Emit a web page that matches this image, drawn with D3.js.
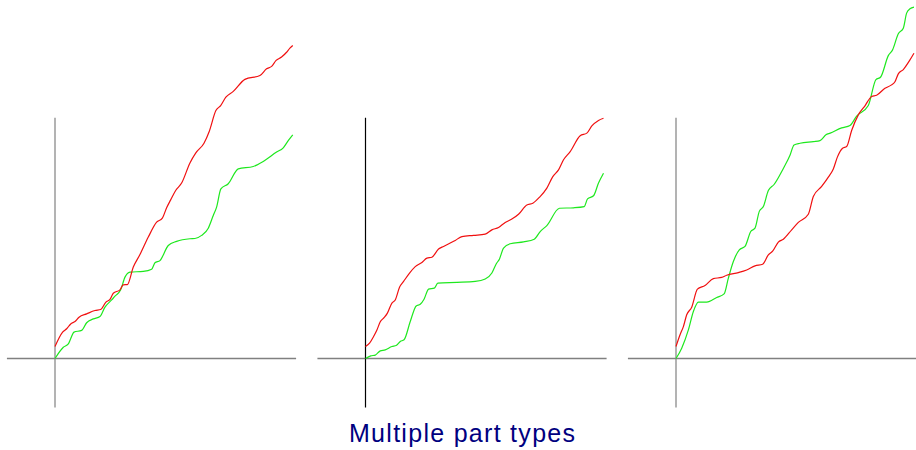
<!DOCTYPE html>
<html><head><meta charset="utf-8">
<script src="https://cdn.jsdelivr.net/npm/d3@7"></script>
<style>html,body{margin:0;padding:0;background:#fff;}</style>
</head><body>
<svg id="c" width="916" height="450"></svg>
<script>
const title = "Multiple part types";
const panels = ["A", "B", "C"];
// x: 0..100 along run, y: 100 = top of vertical axis
const redA = [[0,5],[3.2,11],[4.9,12.4],[6.6,14.4],[8.4,15.4],[10.1,17.2],[13.3,18.6],[16.8,20],[19.2,20.4],[21.4,23.5],[23.1,24.6],[24.5,27.2],[27.3,28.6],[28.7,30.7],[30.4,30.8],[32.9,38.1],[35.7,43.3],[39.2,50.6],[42.7,56.8],[45.1,58.5],[46.9,62.8],[48.6,66.1],[50.7,70],[53.2,73.1],[56.7,81.5],[59.1,85.6],[62.6,89.7],[64.8,94.6],[67.6,103.3],[69.6,105.4],[71.8,108.9],[74.9,111.3],[79.8,116.3],[86.1,117.9],[88.9,120.7],[91,121.7],[92.9,124.2],[95.2,125.6],[97.3,127.6],[98.7,129.3],[99.9,130.4]];
const greenA = [[0,0],[3.5,4.7],[5.6,6.1],[8,11],[11.2,11.7],[13.3,14.9],[16.1,16.5],[18.9,17.5],[21,21.4],[23.8,24.4],[25.2,26],[27.6,28.6],[29.4,33.9],[31.5,36],[37.1,36.3],[40.6,37.2],[42,39.9],[44.1,40.8],[47.6,47.1],[51.1,48.8],[56.7,49.9],[58.8,50],[61.6,51.3],[64.4,54.3],[66.5,59.6],[67.9,63.1],[69.7,70.7],[72.8,72.8],[77,79],[83.3,80],[87.5,82.1],[93.1,86],[95.9,87.8],[98,90.8],[99.9,93.2]];
const redB = [[0,5],[1.7,6.4],[3.4,9.2],[4.8,11.9],[6.2,15.3],[7.8,17],[9.2,18.9],[11.1,23.1],[12.5,24.4],[14.3,29.7],[16,32.1],[18.5,35.6],[20.9,38.3],[23.7,40],[25.8,41.8],[27.9,42.2],[30.7,45.6],[32.8,46.7],[35.6,48.1],[37.7,49.2],[40.5,50.8],[45.4,51.3],[50.3,51.8],[53.1,53.6],[55.9,54.6],[58.7,56.7],[61.5,58.1],[64.3,60.1],[67.8,64],[70.3,64.7],[73.1,67.2],[76.2,71],[78.7,75.8],[81.1,78.6],[83.2,82.8],[86,86.2],[90.2,92.8],[93,93.9],[95.1,96.9],[97.9,99.2],[100,100.1]];
const greenB = [[0,0],[2.2,1.1],[4.1,1.4],[6.2,3.2],[8.3,3.6],[11.1,5],[12.9,5.4],[14.6,7.1],[16.2,7.8],[18.8,15.4],[21.3,21.9],[23,22.6],[24.6,24.7],[26.5,28.9],[28.9,29.3],[30.4,31.4],[38.4,31.7],[46.1,32.1],[50.3,33.1],[53.1,35.6],[54.9,39.4],[56.3,41.5],[58,46],[60.8,47.8],[66.4,48.6],[70.9,49.7],[73.4,52.9],[76.2,55.4],[81.5,62.6],[87.4,62.8],[91.9,63.3],[93.3,66.5],[95.8,67.8],[97.9,73.1],[100,77.2]];
const redC = [[0,5],[1.7,9.9],[3.1,13.3],[4.5,18.2],[6.6,21.4],[9,28.9],[12.2,30.4],[15.7,33.3],[19.2,33.8],[21.3,34.7],[26.2,35.8],[29.7,36.9],[33.2,38.6],[36.4,39.3],[38.8,43.2],[40.6,44.7],[43,48.5],[45.1,49.7],[48.6,53.6],[51.4,56.7],[55.6,60.1],[57.7,67.5],[61.2,71.7],[64,75.6],[66.1,79],[67.8,83.9],[70,87.6],[71.7,88.3],[73.8,95],[76.6,101.5],[79.4,105.3],[82.2,109.2],[84.3,109.7],[87.8,112.6],[90.2,113.8],[92,115.3],[93.4,118.6],[95.5,120.4],[98.3,124.4],[100,127.2]];
const greenC = [[0,0],[2.4,4.3],[5.2,11.9],[7.3,19.6],[9.4,23.5],[12.9,23.5],[17.1,25.4],[20.2,26.9],[22,33.5],[24.1,40.4],[26.6,45.3],[29,46.7],[31.4,52.9],[33.2,54.3],[35,61.3],[36.7,63.3],[38.8,70],[41.2,72.5],[45.1,79.2],[47.9,84.7],[49.6,89],[52.1,89.7],[57.7,90.4],[60.5,90.8],[63,93.2],[64.8,93.9],[69.6,96.1],[73.1,97.1],[75.9,101],[80.8,105.4],[84,116.2],[86,117.3],[89.2,126.2],[91,128.6],[93.4,135.3],[95.5,137.6],[96.9,143.9],[98.3,145.7],[100,146.4]];
const reds = [redA, redB, redC];
const greens = [greenA, greenB, greenC];
const xAxisExtent = [-20.2, 101.3];
const yAxisExtent = [-20.4, 100.3];
const vAxisColors = ["#808080", "#000000", "#808080"];

const svg = d3.select("#c");
const origins = [55, 365.5, 676];
const y = d3.scaleLinear().domain([0, 100]).range([358.5, 118.5]);

panels.forEach((p, i) => {
  const o = origins[i];
  const x = d3.scaleLinear().domain([0, 100]).range([o, o + 238]);
  const g = svg.append("g");
  g.append("line").attr("x1", x(xAxisExtent[0])).attr("x2", x(xAxisExtent[1]))
    .attr("y1", y(0)).attr("y2", y(0)).attr("stroke", "#808080").attr("stroke-width", 1.4);
  g.append("line").attr("x1", x(0)).attr("x2", x(0))
    .attr("y1", y(yAxisExtent[0])).attr("y2", y(yAxisExtent[1])).attr("stroke", vAxisColors[i]).attr("stroke-width", 1.2);
  const line = d3.line().x(d => x(d[0])).y(d => y(d[1])).curve(d3.curveMonotoneX);
  g.append("path").datum(greens[i]).attr("d", line).attr("fill", "none")
    .attr("stroke", "#1ee81e").attr("stroke-width", 1.2);
  g.append("path").datum(reds[i]).attr("d", line).attr("fill", "none")
    .attr("stroke", "#f01010").attr("stroke-width", 1.2);
});

svg.append("text").attr("x", 462).attr("y", 442).attr("text-anchor", "middle")
  .attr("font-family", "Liberation Sans, Arial, sans-serif").attr("font-size", 25)
  .attr("textLength", 226).attr("lengthAdjust", "spacing")
  .attr("fill", "#000080").text(title);
</script>
</body></html>
